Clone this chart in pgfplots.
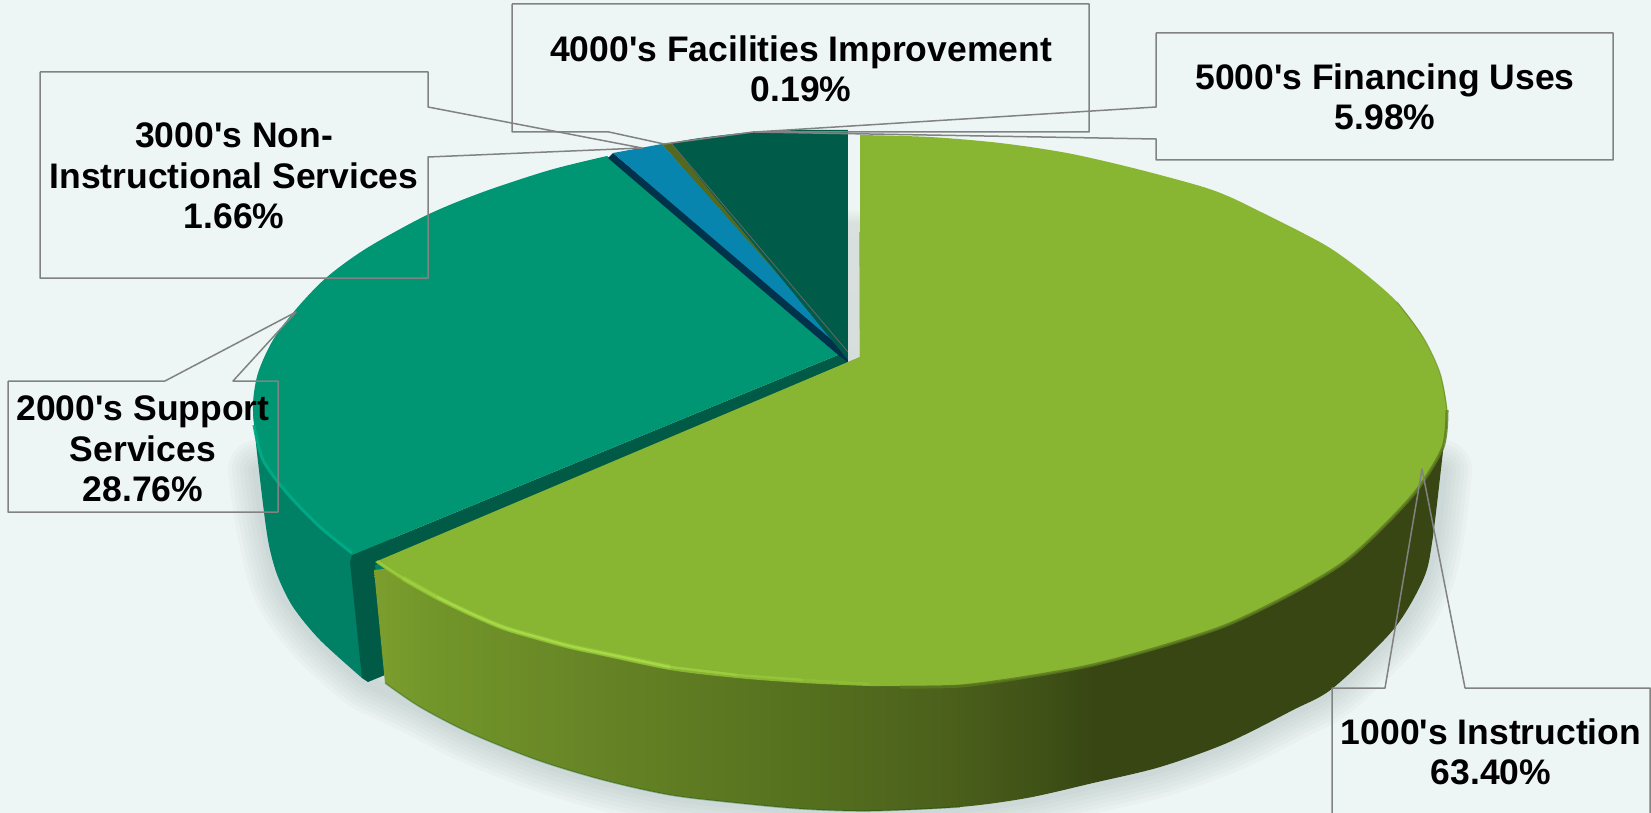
\documentclass[border=0pt]{standalone}
\usepackage{pgfplots}
\pgfplotsset{compat=1.18}
\usepackage{fontspec}
\newfontfamily\lab{Liberation Sans}
\definecolor{bgc}{RGB}{238,246,245}
\definecolor{shc}{RGB}{165,180,180}
\definecolor{gtop}{RGB}{136,181,50}
\definecolor{ghi}{RGB}{168,220,72}
\definecolor{grim}{RGB}{92,122,32}
\definecolor{ttop}{RGB}{0,150,115}
\definecolor{tside}{RGB}{0,128,100}
\definecolor{thi}{RGB}{0,172,135}
\definecolor{tband}{RGB}{0,90,70}
\definecolor{btop}{RGB}{8,133,175}
\definecolor{bband}{RGB}{0,50,75}
\definecolor{otop}{RGB}{85,105,30}
\definecolor{dtop}{RGB}{0,92,72}
\definecolor{cline}{RGB}{130,130,130}
\pgfdeclarehorizontalshading{sideg}{100bp}{%
rgb(0bp)=(.49,.62,.18);rgb(25bp)=(.49,.62,.18);rgb(27.5bp)=(.45,.59,.165);rgb(34bp)=(.41,.53,.15);%
rgb(45bp)=(.333,.44,.118);rgb(52bp)=(.294,.373,.106);rgb(56.5bp)=(.243,.314,.086);%
rgb(58.5bp)=(.22,.275,.075);rgb(100bp)=(.22,.275,.075)}
\pgfdeclareverticalshading{gapg}{100bp}{%
rgb(0bp)=(.84,.87,.86);rgb(25bp)=(.84,.87,.86);rgb(55bp)=(.85,.88,.87);rgb(58bp)=(.933,.965,.96);rgb(100bp)=(.933,.965,.96)}
\newcommand\shadowline[1]{\addplot[draw=shc,opacity=.07,line width=#1,smooth,line cap=round] coordinates {(258,470)(265,520)(278,577)(293,607)(320,640)(362,678)(385,690)(420,707)(470,733)(537,760)(603,780)(670,795)(737,803)(803,809)(870,811)(960,807)(1027,798)(1093,783)(1160,767)(1227,743)(1293,710)(1333,688)(1393,630)(1423,580)(1435,530)(1442,470)};}
\begin{document}
\begin{tikzpicture}
\path[use as bounding box] (0,0) rectangle (1651pt,813pt);
\begin{axis}[scale only axis,width=1651pt,height=813pt,xmin=0,xmax=1651,ymin=0,ymax=813,
  y dir=reverse,hide axis,clip=true,no markers,
  every axis plot/.append style={line join=round}]
% background
\addplot[fill=bgc,draw=none] coordinates {(0,0)(1651,0)(1651,813)(0,813)(0,0)};
% shadow
\shadowline{60pt}\shadowline{52pt}\shadowline{44pt}\shadowline{36pt}\shadowline{28pt}\shadowline{20pt}\shadowline{12pt}
% teal side
\addplot[fill=tside,draw=none,smooth] coordinates {(253,413)(257,453)(265,520)(270,550)(278,577)(293,607)(320,640)(362,678)} -- (axis cs:400,500) -- cycle;
% dark cut face of the teal slice
\addplot[fill=tband,draw=none] coordinates {(848,357)(838,355)(352,555)(350,562)(362,678)(368,682)(385,675)(375,565)(860,357)(848,357)};
% teal top
\addplot[fill=ttop,draw=none,smooth] coordinates {(607,156)(550,170)(483,192)(427,215)(367,248)(327,277)(297,308)(273,340)(258,373)(253,403)(255,430)(263,460)(287,493)(320,527)(352,555)} -- (axis cs:838,355) -- cycle;
\addplot[draw=thi,line width=3pt,smooth,opacity=.9] coordinates {(254,425)(263,460)(287,493)(320,527)(352,553)};
% navy and blue
\addplot[fill=bband,draw=none] coordinates {(611,155)(613,153)(848,350)(848,362)(838,355)(608,158)(611,155)};
\addplot[fill=btop,draw=none] coordinates {(613,153)(662,144)(847,348)(846,352)(613,153)};
% olive
\addplot[fill=otop,draw=none] coordinates {(662,144)(671,143)(848,350)(847,352)(662,144)};
% dark green
\addplot[fill=dtop,draw=none,smooth] coordinates {(671,143)(700,138)(753,132)(800,130)(848,130)} -- (axis cs:848,360) -- cycle;
\addplot[draw=black!60,line width=.8pt] coordinates {(671,143)(848,352)};
% gap
\addplot[shading=gapg,shade,draw=none] coordinates {(848,130)(860,133)(860,357)(848,362)(848,130)};
\addplot[draw=black!40,line width=.8pt,opacity=.7] coordinates {(859.5,232)(860,357)};
% green side
\addplot[shading=sideg,shade,draw=none,smooth] coordinates {(385,683)(420,707)(470,733)(537,760)(603,780)(670,795)(737,803)(803,809)(870,811)(960,807)(1027,798)(1093,783)(1160,767)(1227,743)(1293,710)(1333,688)(1393,630)(1423,580)(1432,543)(1442,460)(1447,413)} -- (axis cs:1000,500) -- (axis cs:374,570) -- cycle;
\addplot[draw=black!70!green,opacity=.3,line width=1.5pt,smooth] coordinates {(385,683)(420,707)(470,733)(537,760)(603,780)(670,795)(737,803)(803,809)(870,811)(960,807)};
% green top
\addplot[fill=gtop,draw=none,smooth] coordinates {(860,135)(930,137)(1000,143)(1067,153)(1133,168)(1200,186)(1230,197)(1263,213)(1297,230)(1330,248)(1363,272)(1397,302)(1423,337)(1440,373)(1447,410)(1443,447)(1417,490)(1380,530)(1343,563)(1293,593)(1227,625)(1160,647)(1093,665)(1027,677)(960,685)(900,686)(870,686)(803,683)(737,678)(670,670)(603,656)(570,649)(537,640)(503,630)(470,616)(437,600)(403,581)(375,562)} -- (axis cs:860,357) -- cycle;
% rim lights
\addplot[draw=grim,line width=3pt,smooth,opacity=.8] coordinates {(1447,410)(1443,447)(1417,490)(1380,530)(1343,563)(1293,593)(1227,625)(1160,647)(1093,665)(1027,677)(960,686)(900,687)};
\addplot[draw=grim,line width=1.2pt,smooth,opacity=.45] coordinates {(1397,302)(1423,337)(1440,373)(1447,410)};
\addplot[draw=ghi,line width=5pt,smooth,opacity=.3] coordinates {(403,578)(437,597)(470,613)(503,627)(537,637)(570,646)(603,653)(670,667)};
\addplot[draw=ghi,line width=2.5pt,smooth,opacity=.55] coordinates {(377,561)(403,578)(437,597)};
\addplot[draw=ghi,line width=2.5pt,smooth,opacity=.9] coordinates {(437,597)(470,613)(503,627)(537,637)(570,646)(603,653)(670,667)};
\addplot[draw=ghi,line width=2.5pt,opacity=.6] coordinates {(670,667)(737,675)};
\addplot[draw=ghi,line width=2.5pt,opacity=.4] coordinates {(737,675)(803,680)};
\addplot[draw=ghi,line width=2.5pt,opacity=.2] coordinates {(803,680)(870,684)};
% call-outs
\addplot[draw=cline,line width=1.5pt] coordinates {(40,72)(428,72)(428,107)(642,148)(428,157)(428,278)(40,278)(40,72)};
\addplot[draw=cline,line width=1.5pt] coordinates {(512,4)(1089,4)(1089,132)(753,132)(664,144)(609,132)(512,132)(512,4)};
\addplot[draw=cline,line width=1.5pt] coordinates {(1156,33)(1613,33)(1613,160)(1156,160)(1156,139)(755,132)(1156,107)(1156,33)};
\addplot[draw=cline,line width=1.5pt] coordinates {(8,381)(165,381)(296,312)(233,381)(278,381)(278,512)(8,512)(8,381)};
\addplot[draw=cline,line width=1.5pt] coordinates {(1332,813)(1332,688)(1385,688)(1422,469)(1465,688)(1650,688)(1650,813)};
% labels
\begin{scope}[every node/.style={align=center,font=\lab\fontsize{35.5}{40.5}\selectfont\bfseries,inner sep=0pt}]
\node at (axis cs:234,176) {3000's Non-\\Instructional Services\\1.66\%};
\node at (axis cs:143,449) {2000's Support\\Services\\28.76\%};
\node at (axis cs:801,69) {4000's Facilities Improvement\\0.19\%};
\node at (axis cs:1385,97) {5000's Financing Uses\\5.98\%};
\node at (axis cs:1491,752) {1000's Instruction\\63.40\%};
\end{scope}
\end{axis}
\end{tikzpicture}
\end{document}
